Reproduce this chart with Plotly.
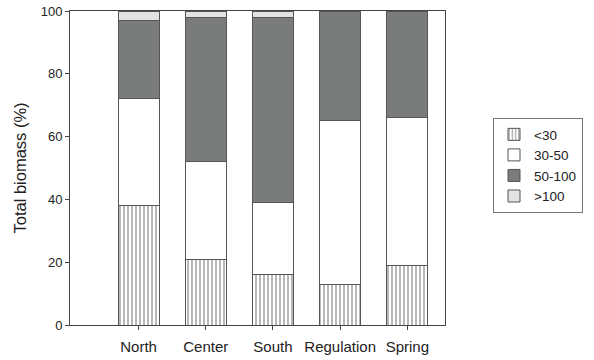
import plotly.graph_objects as go

categories = ["North", "Center", "South", "Regulation", "Spring"]
lt30 = [38, 21, 16, 13, 19]
s30_50 = [34, 31, 23, 52, 47]
s50_100 = [25, 46, 59, 35, 34]
gt100 = [3, 2, 2, 0, 0]
y_ticks = [0, 20, 40, 60, 80, 100]

fig = go.Figure()
line = dict(color="#555555", width=1)
fig.add_bar(x=categories, y=lt30, name="<30",
            marker=dict(color="white", line=line,
                        pattern=dict(shape="|", fgcolor="#333333", bgcolor="white", size=4, solidity=0.35)))
fig.add_bar(x=categories, y=s30_50, name="30-50", marker=dict(color="white", line=line))
fig.add_bar(x=categories, y=s50_100, name="50-100", marker=dict(color="#7a7c7b", line=line))
fig.add_bar(x=categories, y=gt100, name=">100", marker=dict(color="#e3e3e3", line=line))

fig.update_layout(
    width=594, height=360,
    barmode="stack", bargap=0.39,
    margin=dict(l=70, r=149, t=11, b=35),
    paper_bgcolor="white", plot_bgcolor="white",
    font=dict(family="Liberation Sans, Arial, sans-serif", size=13, color="#222222"),
    showlegend=True,
    legend=dict(x=1.128, y=0.659, xanchor="left", yanchor="top",
                traceorder="normal", bordercolor="#777777", borderwidth=1,
                font=dict(size=13.5), itemwidth=30),
    xaxis=dict(range=[-1.02, 4.56], showline=True, linecolor="#444444", linewidth=1,
               mirror=True, ticks="outside", ticklen=4, tickcolor="#444444",
               showgrid=False, automargin=False, tickfont=dict(size=15),
               ticklabelstandoff=4),
    yaxis=dict(range=[0, 100], tickvals=y_ticks, showline=True, linecolor="#444444",
               linewidth=1, mirror=True, ticks="outside", ticklen=4, tickcolor="#444444",
               showgrid=False, zeroline=False, automargin=False,
               title=dict(text="Total biomass (%)", standoff=9, font=dict(size=16.5))),
)

fig.write_html("out.html", config={"displayModeBar": False},
               post_script="document.body.style.margin='0';")
